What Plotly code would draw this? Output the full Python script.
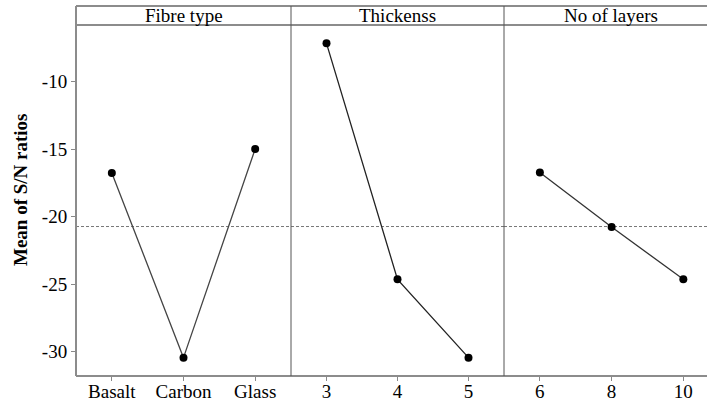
import plotly.graph_objects as go
import numpy as np

fibre_levels = ["Basalt", "Carbon", "Glass"]
fibre_means = [-16.76, -30.44, -14.98]
thick_levels = ["3", "4", "5"]
thick_means = [-7.16, -24.64, -30.44]
layer_levels = ["6", "8", "10"]
layer_means = [-16.73, -20.76, -24.64]
panel_titles = ["Fibre type", "Thickenss", "No of layers"]
y_ticks = [-10, -15, -20, -25, -30]
y_title = "Mean of S/N ratios"

grand_mean = float(np.mean(fibre_means + thick_means + layer_means))

W, H = 707, 403
ml, mt, mb, mr = 76, 6, 27, 0
pw = W - ml - mr
ph = H - mt - mb
data_top = (376 - 25) / ph
doms = [[0, 215 / pw], [215 / pw, 428 / pw], [428 / pw, 1.0]]
ranges = [[-0.5, 2.5], [-0.5, 2.5], [-0.5, 2.33]]

font = "Liberation Serif"
fs = 19
fig = go.Figure()
series = [(fibre_levels, fibre_means), (thick_levels, thick_means), (layer_levels, layer_means)]
line_cols = ["#444444", "#222222", "#333333"]
for i, (lv, mv) in enumerate(series):
    xa = "x" if i == 0 else f"x{i+1}"
    fig.add_trace(go.Scatter(
        x=[ranges[i][0], ranges[i][1]], y=[grand_mean, grand_mean], xaxis=xa, yaxis="y",
        mode="lines", line=dict(color="#777777", width=1, dash="3px,2px"),
        showlegend=False, hoverinfo="skip"))
    fig.add_trace(go.Scatter(
        x=list(range(len(lv))), y=mv, xaxis=xa, yaxis="y",
        mode="lines+markers",
        line=dict(color=line_cols[i], width=1.3),
        marker=dict(color="black", size=8),
        showlegend=False, hoverinfo="skip"))

layout = dict(
    width=W, height=H, autosize=False,
    margin=dict(l=ml, r=mr, t=mt, b=mb, autoexpand=False),
    plot_bgcolor="white", paper_bgcolor="white",
    font=dict(family=font, size=fs, color="black"),
    yaxis=dict(domain=[0, data_top], range=[-31.8, -5.8], automargin=False,
               tickvals=y_ticks, ticktext=[str(v) for v in y_ticks],
               ticks="outside", ticklen=4, tickcolor="#888888",
               showgrid=False, zeroline=False, showline=False,
               tickfont=dict(size=fs)),
)
for i, (lv, mv) in enumerate(series):
    key = "xaxis" if i == 0 else f"xaxis{i+1}"
    layout[key] = dict(domain=doms[i], range=ranges[i], anchor="y", automargin=False,
                       tickvals=list(range(len(lv))), ticktext=lv,
                       ticks="outside", ticklen=4, tickcolor="#888888",
                       ticklabelstandoff=-6,
                       showgrid=False, zeroline=False, showline=False,
                       tickfont=dict(size=fs))
fig.update_layout(**layout)

shapes = []
gray = "#8c8c8c"
dark = "#555555"
shapes.append(dict(type="line", xref="paper", yref="paper", x0=0, x1=1, y0=1, y1=1, line=dict(color=gray, width=2)))
shapes.append(dict(type="line", xref="paper", yref="paper", x0=0, x1=1, y0=data_top, y1=data_top, line=dict(color=gray, width=2)))
shapes.append(dict(type="line", xref="paper", yref="paper", x0=0, x1=1, y0=0, y1=0, line=dict(color=gray, width=2)))
shapes.append(dict(type="line", xref="paper", yref="paper", x0=0, x1=0, y0=0, y1=1, line=dict(color=gray, width=2)))
for d in doms[1:]:
    shapes.append(dict(type="line", xref="paper", yref="paper", x0=d[0], x1=d[0], y0=0, y1=1, line=dict(color=dark, width=1)))
fig.update_layout(shapes=shapes)

annotations = []
for i, t in enumerate(panel_titles):
    d = doms[i]
    if i == 2:
        cx = (d[0] + (d[0] + 213 / pw)) / 2
    else:
        cx = (d[0] + d[1]) / 2
    annotations.append(dict(text=t, xref="paper", yref="paper", x=cx, y=(1 + data_top) / 2,
                            xanchor="center", yanchor="middle", showarrow=False,
                            font=dict(size=fs, family=font)))
annotations.append(dict(text=f"<b>{y_title}</b>", xref="paper", yref="paper",
                        x=(20 - ml) / pw, y=(H - mb - 190) / ph, textangle=-90,
                        xanchor="center", yanchor="middle", showarrow=False,
                        font=dict(size=fs, family=font)))
fig.update_layout(annotations=annotations)

fig.write_html("out.html")
